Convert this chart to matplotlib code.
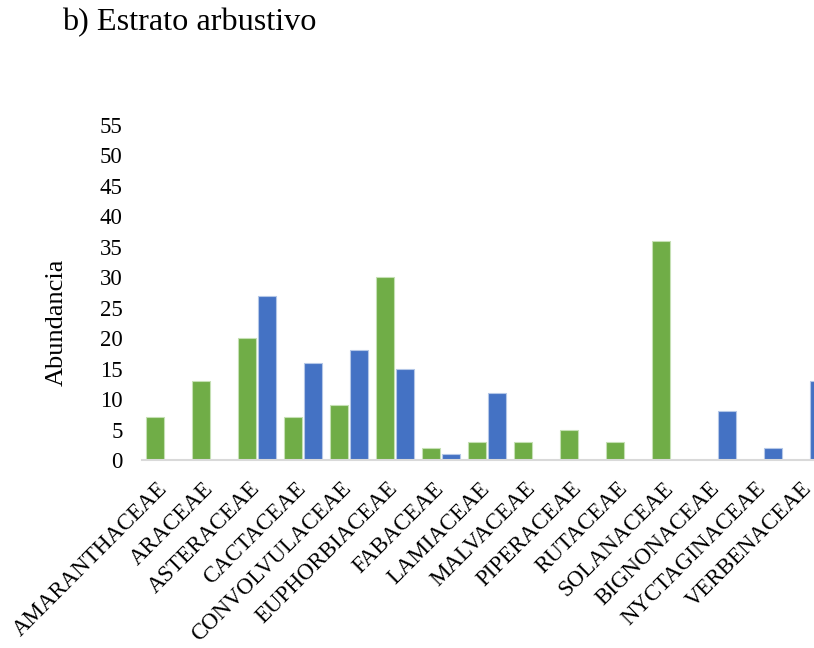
import numpy as np
import matplotlib
matplotlib.use("Agg")
import matplotlib.pyplot as plt
from matplotlib.transforms import ScaledTranslation

plt.rcParams['font.family'] = ['Liberation Serif', 'DejaVu Serif']

familias = ["AMARANTHACEAE", "ARACEAE", "ASTERACEAE", "CACTACEAE", "CONVOLVULACEAE",
            "EUPHORBIACEAE", "FABACEAE", "LAMIACEAE", "MALVACEAE", "PIPERACEAE",
            "RUTACEAE", "SOLANACEAE", "BIGNONACEAE", "NYCTAGINACEAE", "VERBENACEAE"]
verde = [7, 13, 20, 7, 9, 30, 2, 3, 3, 5, 3, 36, 0, 0, 0]
azul = [0, 0, 27, 16, 18, 15, 1, 11, 0, 0, 0, 0, 8, 2, 13]
yticks = list(range(0, 60, 5))

W, H = 814, 648
fig = plt.figure(figsize=(W / 100, H / 100), dpi=100)
# the axes run past the right edge, the original picture is cropped there
ax = fig.add_axes([142 / W, 1 - 460 / H, 690 / W, 335 / H])

x = np.arange(len(familias))
ancho = 0.39
ax.bar(x - 0.215, verde, ancho, color="#70AD47", edgecolor="#C5E0B4", linewidth=0.8)
ax.bar(x + 0.215, azul, ancho, color="#4472C4", edgecolor="#B4C7E7", linewidth=0.8)

ax.set_xlim(-0.5, len(familias) - 0.5)
ax.set_ylim(0, 55)
ax.set_yticks(yticks)
ax.set_yticklabels([str(v) for v in yticks], fontsize=16.5)
ax.tick_params(axis="y", length=0, pad=14)

ax.set_xticks(x)
ax.set_xticklabels(familias, fontsize=16.5, rotation=45, ha="right", va="top",
                   rotation_mode="anchor")
ax.tick_params(axis="x", length=0, pad=13)
off = ScaledTranslation(-8 / 100, 0, fig.dpi_scale_trans)
for lab in ax.get_xticklabels():
    lab.set_transform(lab.get_transform() + off)

for s in ["top", "right", "left"]:
    ax.spines[s].set_visible(False)
ax.spines["bottom"].set_color("#D9D9D9")
ax.spines["bottom"].set_linewidth(1.5)

ax.set_ylabel("Abundancia", fontsize=19)
ax.yaxis.set_label_coords(68 / W, 1 - 322 / H, transform=fig.transFigure)

fig.text(62 / W, 1 - 8 / H, "b) Estrato arbustivo", fontsize=23.2, va="top", ha="left")

fig.savefig("out.png", dpi=100)
